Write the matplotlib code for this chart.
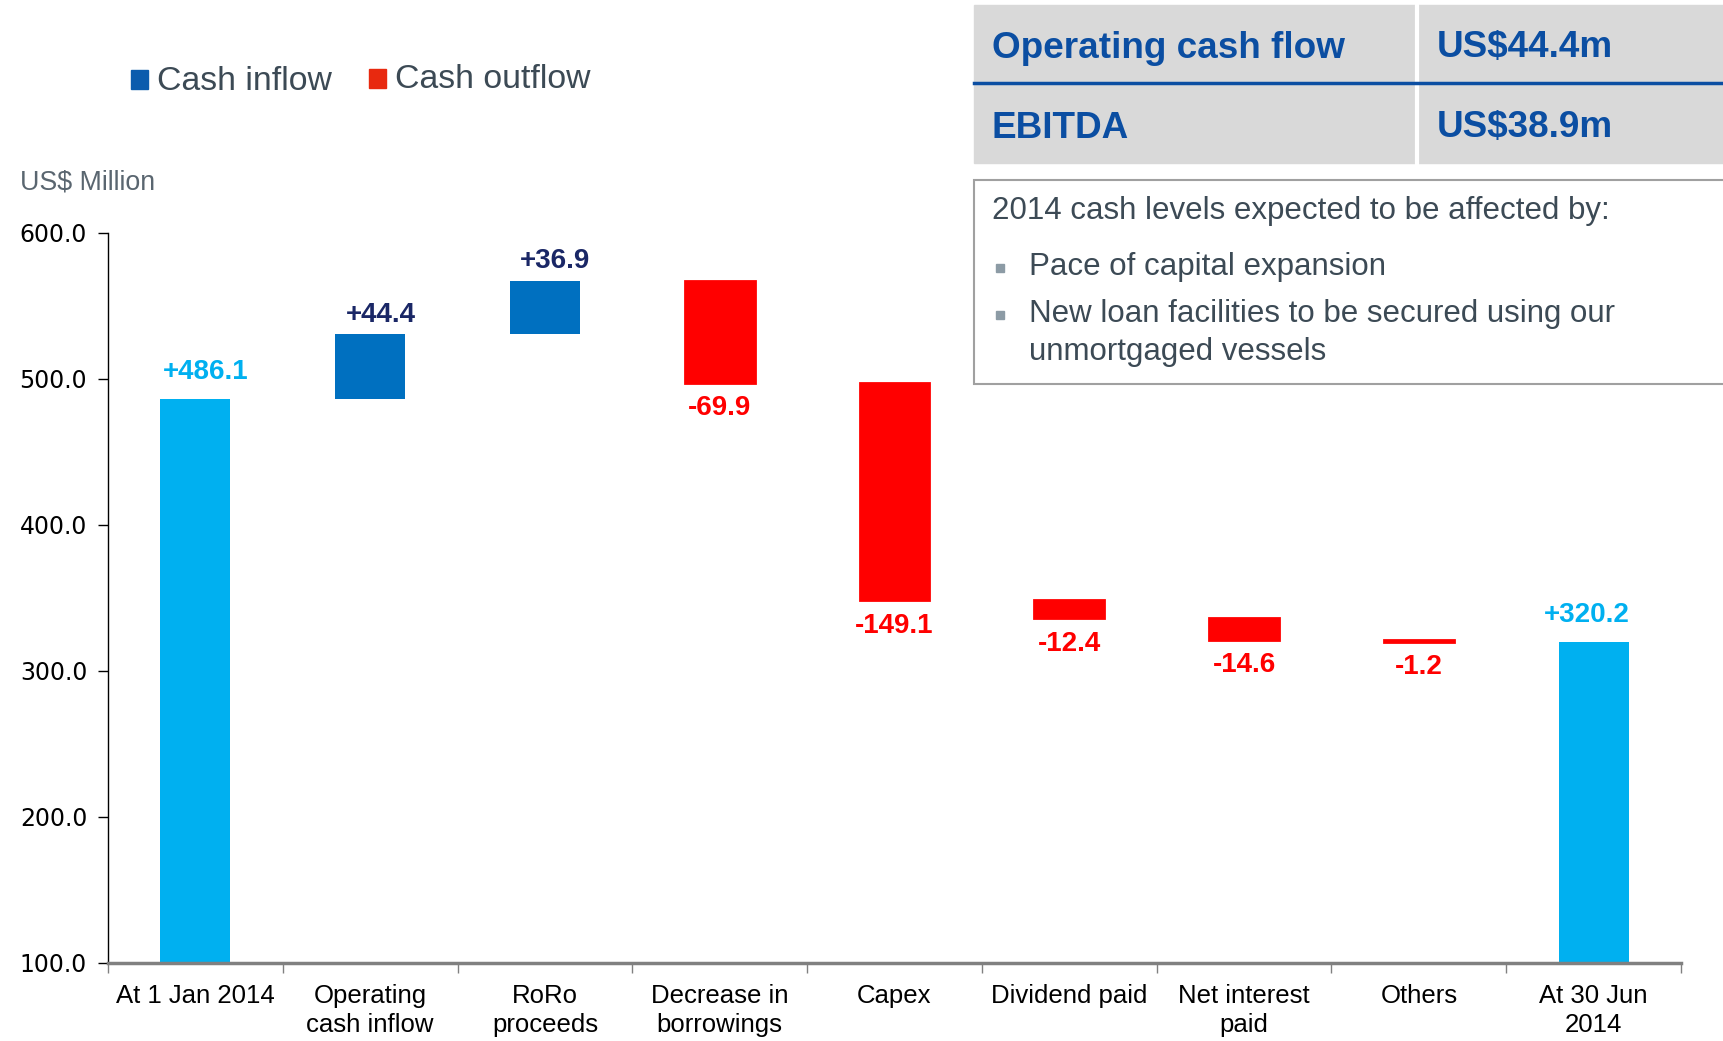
import matplotlib
matplotlib.use("Agg")
from matplotlib import pyplot as plt
from matplotlib.patches import Rectangle

plt.rcParams['font.family'] = ['Liberation Sans', 'DejaVu Sans']

# data
categories = ["At 1 Jan 2014", "Operating\ncash inflow", "RoRo\nproceeds", "Decrease in\nborrowings",
              "Capex", "Dividend paid", "Net interest\npaid", "Others", "At 30 Jun\n2014"]
changes = [486.1, 44.4, 36.9, -69.9, -149.1, -12.4, -14.6, -1.2, 320.2]
kinds = ["total", "in", "in", "out", "out", "out", "out", "out", "total"]
yticks = [100, 200, 300, 400, 500, 600]

table_rows = [("Operating cash flow", "US$44.4m"), ("EBITDA", "US$38.9m")]
box_title = "2014 cash levels expected to be affected by:"
box_bullets = ["Pace of capital expansion", "New loan facilities to be secured using our\nunmortgaged vessels"]

bar_colors = {"total": "#00B0F0", "in": "#0070C0", "out": "#FF0000"}
label_colors = {"total": "#00B0F0", "in": "#1A2766", "out": "#FF0000"}
text_grey = "#3C4A55"
table_blue = "#0B4EA2"

W, H = 1723, 1041
fig = plt.figure(figsize=(W / 100, H / 100), dpi=100)


def fx(px):
    return px / W


def fy(py):
    return 1 - py / H


ax = fig.add_axes([fx(108), fy(963), fx(1681) - fx(108), fy(233) - fy(963)])

# waterfall bars
running = 0.0
last = len(changes) - 1
for i, (c, k) in enumerate(zip(changes, kinds)):
    if k == "total":
        bottom, height = 0.0, c
        running = c
    else:
        bottom = running if c > 0 else running + c
        height = abs(c)
        running += c
    lw = 2 if k == "out" else 0
    ax.bar(i, height, bottom=bottom, width=0.4, color=bar_colors[k],
           edgecolor=bar_colors[k], linewidth=lw, zorder=2)
    txt = "%+.1f" % c
    if c > 0:
        dx = -0.04 if i == last else 0.06
        dy = 10 if k == "total" else 5
        ax.annotate(txt, (i + dx, bottom + height), xytext=(0, dy), textcoords="offset points",
                    ha="center", va="bottom", fontsize=20, fontweight="bold", color=label_colors[k])
    else:
        ax.annotate(txt, (i, bottom), xytext=(0, -9), textcoords="offset points",
                    ha="center", va="top", fontsize=20, fontweight="bold", color=label_colors[k])

ax.set_xlim(-0.5, len(categories) - 0.5)
ax.set_ylim(100, 600)
ax.set_yticks(yticks)
ax.set_yticklabels(["%.1f" % v for v in yticks], fontsize=17, family="DejaVu Sans")
ax.set_xticks(range(len(categories)))
ax.set_xticklabels(categories, fontsize=18.5, linespacing=1.25)
ax.set_xticks([i - 0.5 for i in range(len(categories) + 1)], minor=True)
ax.tick_params(axis="x", which="major", length=0, pad=15)
ax.tick_params(axis="x", which="minor", length=7, width=1, color="#808080", direction="out")
ax.tick_params(axis="y", length=7, width=1, color="black", pad=8)

for s in ["top", "right"]:
    ax.spines[s].set_visible(False)
ax.spines["left"].set_color("black")
ax.spines["left"].set_linewidth(1)
ax.spines["bottom"].set_color("#808080")
ax.spines["bottom"].set_linewidth(2.5)

fig.text(fx(20), fy(182), "US$ Million", fontsize=19.3, color="#5A6670", va="center")

# legend
fig.patches.append(Rectangle((fx(131), fy(89)), fx(17), fy(70) - fy(89), transform=fig.transFigure,
                             color="#0B5CAD"))
fig.text(fx(157), fy(81), "Cash inflow", fontsize=24.3, color=text_grey, va="center")
fig.patches.append(Rectangle((fx(369), fy(88)), fx(17), fy(69) - fy(88), transform=fig.transFigure,
                             color="#E8290F"))
fig.text(fx(395), fy(80), "Cash outflow", fontsize=24.3, color=text_grey, va="center")

# table
fig.patches.append(Rectangle((fx(974), fy(163)), fx(W) - fx(974), fy(5) - fy(163),
                             transform=fig.transFigure, color="#D9D9D9", zorder=0))
fig.add_artist(plt.Line2D([fx(1417), fx(1417)], [fy(5), fy(163)], transform=fig.transFigure,
                          color="white", linewidth=3))
fig.add_artist(plt.Line2D([fx(974), fx(W)], [fy(83), fy(83)], transform=fig.transFigure,
                          color=table_blue, linewidth=2.5))
row_y = [48, 128]
for (lbl, val), yy in zip(table_rows, row_y):
    fig.text(fx(992), fy(yy), lbl, fontsize=26.6, fontweight="bold", color=table_blue, va="center")
    fig.text(fx(1437), fy(yy), val, fontsize=26.6, fontweight="bold", color=table_blue, va="center")

# text box
fig.patches.append(Rectangle((fx(974), fy(384)), fx(W + 5) - fx(974), fy(180) - fy(384),
                             transform=fig.transFigure, facecolor="white", edgecolor="#A0A0A0",
                             linewidth=1.5))
fig.text(fx(992), fy(211), box_title, fontsize=22.5, color=text_grey, va="center")
bullet_y = [268, 315]
for b, yy in zip(box_bullets, bullet_y):
    fig.patches.append(Rectangle((fx(996), fy(yy + 4)), fx(8), fy(yy - 4) - fy(yy + 4),
                                 transform=fig.transFigure, color="#8C9BA5"))
    fig.text(fx(1029), fy(yy - 16), b, fontsize=22.5, color=text_grey, va="top", linespacing=1.34)

fig.savefig("out.png", dpi=100)
